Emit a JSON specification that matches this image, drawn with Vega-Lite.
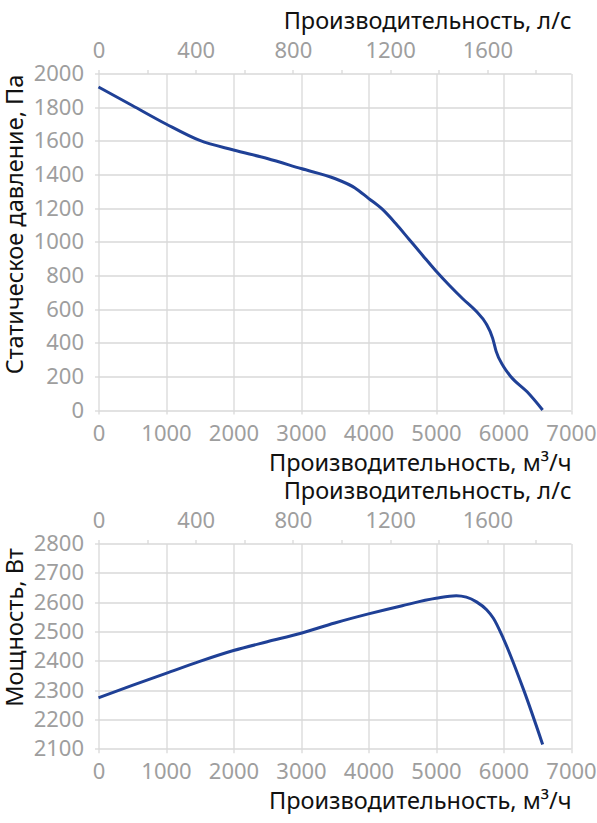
{
  "$schema": "https://vega.github.io/schema/vega-lite/v6.json",
  "padding": {"left": 2.5, "top": 9.5, "right": 0, "bottom": 0},
  "config": {
    "font": "Noto Sans",
    "view": {"stroke": null},
    "axis": {
      "labelFont": "Noto Sans",
      "labelFontSize": 22,
      "labelColor": "#9e9e9e",
      "titleFont": "Noto Sans",
      "titleFontSize": 23.5,
      "titleFontWeight": "normal",
      "titleColor": "#111111",
      "gridColor": "#d9d9d9",
      "gridWidth": 1.3,
      "domain": false,
      "tickColor": "#d9d9d9",
      "tickWidth": 1.3,
      "tickSize": 4,
      "labelOverlap": false,
      "labelFlush": false,
      "format": "d"
    }
  },
  "datasets": {
    "pressure": [
      {"q": 0, "p": 1920},
      {"q": 500, "p": 1810},
      {"q": 1000, "p": 1700},
      {"q": 1500, "p": 1602},
      {"q": 2000, "p": 1545},
      {"q": 2500, "p": 1495},
      {"q": 3000, "p": 1435},
      {"q": 3500, "p": 1376},
      {"q": 3800, "p": 1320},
      {"q": 4000, "p": 1258},
      {"q": 4200, "p": 1195},
      {"q": 4400, "p": 1110},
      {"q": 4600, "p": 1015},
      {"q": 4800, "p": 920},
      {"q": 5000, "p": 826},
      {"q": 5200, "p": 740},
      {"q": 5400, "p": 660},
      {"q": 5600, "p": 585},
      {"q": 5740, "p": 515},
      {"q": 5840, "p": 426},
      {"q": 5890, "p": 350},
      {"q": 6000, "p": 258},
      {"q": 6110, "p": 198},
      {"q": 6350, "p": 108},
      {"q": 6580, "p": 0}
    ],
    "power": [
      {"q": 0, "w": 2274},
      {"q": 500, "w": 2316},
      {"q": 1000, "w": 2357},
      {"q": 1500, "w": 2398},
      {"q": 2000, "w": 2435},
      {"q": 2500, "w": 2465},
      {"q": 3000, "w": 2494},
      {"q": 3500, "w": 2529},
      {"q": 4000, "w": 2560},
      {"q": 4500, "w": 2588},
      {"q": 5000, "w": 2613},
      {"q": 5300, "w": 2622},
      {"q": 5450, "w": 2617},
      {"q": 5600, "w": 2601},
      {"q": 5750, "w": 2574},
      {"q": 5850, "w": 2545},
      {"q": 6000, "w": 2475},
      {"q": 6300, "w": 2300},
      {"q": 6580, "w": 2115}
    ],
    "ls": [{"ls": 0}, {"ls": 1944.444}]
  },
  "spacing": 133,
  "bounds": "flush",
  "vconcat": [
    {
      "width": 472.5,
      "height": 336.5,
      "layer": [
        {
          "data": {"name": "pressure"},
          "mark": {"type": "line", "interpolate": "monotone", "color": "#1f4096", "strokeWidth": 3},
          "encoding": {
            "x": {
              "field": "q", "type": "quantitative",
              "scale": {"domain": [0, 7000], "nice": false},
              "axis": {
                "values": [0, 1000, 2000, 3000, 4000, 5000, 6000, 7000],
                "format": "d",
                "title": "Производительность, м³/ч",
                "titleAnchor": "end",
                "labelPadding": 9,
                "titleBaseline": "alphabetic",
                "titleY": 60
              }
            },
            "y": {
              "field": "p", "type": "quantitative",
              "scale": {"domain": [0, 2000], "nice": false},
              "axis": {
                "values": [0, 200, 400, 600, 800, 1000, 1200, 1400, 1600, 1800, 2000],
                "format": "d",
                "title": "Статическое давление, Па",
                "labelPadding": 11,
                "titleBaseline": "alphabetic",
                "titleX": -76.5,
                "titleY": 150.5
              }
            }
          }
        },
        {
          "data": {"name": "ls"},
          "mark": {"type": "point", "opacity": 0},
          "encoding": {
            "x": {
              "field": "ls", "type": "quantitative",
              "scale": {"domain": [0, 1944.444], "nice": false},
              "axis": {
                "orient": "top",
                "values": [0, 200, 400, 600, 800, 1000, 1200, 1400, 1600, 1800],
                "format": "d",
                "labelExpr": "datum.value % 400 === 0 ? datum.label : ''",
                "grid": false,
                "title": "Производительность, л/с",
                "titleAnchor": "end",
                "labelPadding": 7,
                "titleBaseline": "alphabetic",
                "titleY": -45
              }
            }
          }
        }
      ],
      "resolve": {"scale": {"x": "independent"}, "axis": {"x": "independent"}}
    },
    {
      "width": 472.5,
      "height": 205.3,
      "layer": [
        {
          "data": {"name": "power"},
          "mark": {"type": "line", "interpolate": "monotone", "color": "#1f4096", "strokeWidth": 3},
          "encoding": {
            "x": {
              "field": "q", "type": "quantitative",
              "scale": {"domain": [0, 7000], "nice": false},
              "axis": {
                "values": [0, 1000, 2000, 3000, 4000, 5000, 6000, 7000],
                "format": "d",
                "title": "Производительность, м³/ч",
                "titleAnchor": "end",
                "labelPadding": 9,
                "titleBaseline": "alphabetic",
                "titleY": 60
              }
            },
            "y": {
              "field": "w", "type": "quantitative",
              "scale": {"domain": [2100, 2800], "nice": false, "zero": false},
              "axis": {
                "values": [2100, 2200, 2300, 2400, 2500, 2600, 2700, 2800],
                "format": "d",
                "title": "Мощность, Вт",
                "labelPadding": 11,
                "titleBaseline": "alphabetic",
                "titleX": -76.5,
                "titleY": 83.5
              }
            }
          }
        },
        {
          "data": {"name": "ls"},
          "mark": {"type": "point", "opacity": 0},
          "encoding": {
            "x": {
              "field": "ls", "type": "quantitative",
              "scale": {"domain": [0, 1944.444], "nice": false},
              "axis": {
                "orient": "top",
                "values": [0, 200, 400, 600, 800, 1000, 1200, 1400, 1600, 1800],
                "format": "d",
                "labelExpr": "datum.value % 400 === 0 ? datum.label : ''",
                "grid": false,
                "title": "Производительность, л/с",
                "titleAnchor": "end",
                "labelPadding": 7,
                "titleBaseline": "alphabetic",
                "titleY": -45
              }
            }
          }
        }
      ],
      "resolve": {"scale": {"x": "independent"}, "axis": {"x": "independent"}}
    }
  ]
}
